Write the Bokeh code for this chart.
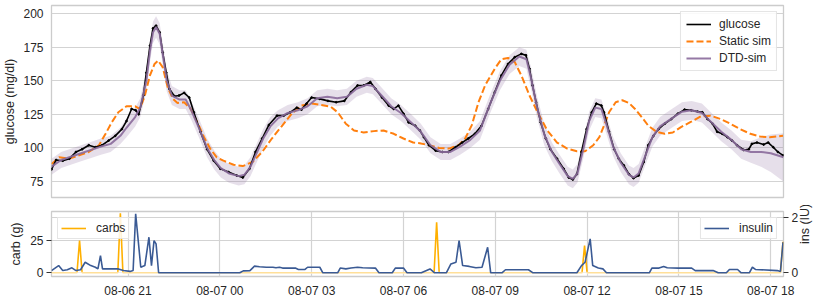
import math
from bokeh.plotting import figure
from bokeh.models import Range1d, LinearAxis, FixedTicker, Legend, LegendItem, Grid
from bokeh.layouts import column
from bokeh.embed import file_html
from bokeh.resources import INLINE

# ---------------- data (minutes since 08-06 18:30) ----------------
glucose_t = [0, 9, 22, 35, 48, 60, 73, 86, 99, 112, 125, 138, 147, 157, 165, 171, 180, 186, 193, 199,
             205, 212, 218, 225, 231, 241, 250, 260, 270, 279, 292, 305, 318, 331, 347, 363, 375, 388,
             400, 413, 426, 442, 455, 468, 481, 490, 500, 510, 526, 542, 558, 574, 587, 600, 612, 625,
             635, 648, 661, 671, 680, 690, 700, 713, 722, 730, 740, 753, 766, 778, 792, 805, 817, 830,
             843, 856, 869, 882, 895, 908, 921, 930, 937, 943, 950, 959, 969, 978, 991, 1004, 1014,
             1022, 1030, 1039, 1049, 1059, 1068, 1078, 1083, 1093, 1103, 1112, 1122, 1132, 1141, 1151,
             1161, 1170, 1180, 1190, 1202, 1215, 1228, 1241, 1254, 1267, 1276, 1286, 1296, 1305, 1315,
             1325, 1334, 1344, 1357, 1367, 1373, 1383, 1396, 1405, 1415, 1424, 1434]
glucose_v = [84, 91, 90.5, 92, 97, 99, 102, 100.5, 102, 105.5, 109, 114, 120, 129, 128, 125, 139, 156,
             176, 189, 191, 186, 171, 156, 144, 138.5, 139, 141, 137.5, 126.5, 112, 99, 90.5, 84.5, 82,
             79.5, 78, 84.5, 97, 107, 117, 124, 124, 126.5, 130, 128.5, 133, 137.5, 136.5, 135, 134,
             135, 141.5, 146.5, 146.5, 149, 144, 137.5, 131.5, 129, 131.5, 125.5, 119, 116.5, 113, 108,
             102, 98, 97, 97, 100.5, 104, 107, 110.5, 116.5, 129, 141.5, 154, 162.5, 167.5, 170, 169,
             159, 146.5, 134, 119, 107, 99, 92, 84.5, 78, 76.5, 80.5, 97, 114, 126.5, 133, 131.5, 126.5,
             112, 99, 92, 87, 80.5, 77.5, 79.5, 89.5, 102, 109, 114, 118, 121.5, 125.5, 128.5, 128, 127,
             126.5, 121.5, 118, 112, 110.5, 108, 105.5, 102, 98.5, 99, 103, 104, 102.5, 104, 100.5, 97,
             94.5]

static_t = [0, 15, 35, 54, 73, 93, 106, 118, 131, 147, 164, 173, 183, 193, 202, 209, 218, 228, 238, 247,
            260, 273, 286, 299, 311, 324, 337, 357, 375, 394, 413, 432, 452, 471, 490, 510, 529, 548,
            561, 577, 593, 612, 632, 651, 671, 690, 709, 722, 740, 760, 779, 798, 811, 824, 837, 850,
            869, 882, 895, 908, 921, 937, 953, 972, 991, 1011, 1030, 1046, 1062, 1074, 1083, 1093, 1106,
            1119, 1132, 1144, 1157, 1170, 1186, 1202, 1218, 1234, 1254, 1273, 1292, 1312, 1331, 1350,
            1370, 1389, 1408, 1434]
static_v = [88, 93, 92, 94.5, 97, 102, 110.5, 119, 126.5, 131, 131, 129, 139, 154, 162.5, 165, 160, 145,
            136.5, 133.5, 134, 129, 119, 108, 99.5, 93, 90.5, 87.5, 86.5, 89.5, 97, 107, 116.5, 125.5,
            131.5, 133, 132, 130.5, 126.5, 118, 113, 111.5, 112.5, 113, 110.5, 107, 104, 103.5, 102, 100,
            99.5, 102, 107, 117, 134, 146.5, 159, 166, 167, 164, 154, 139, 126.5, 113, 104, 99.5, 97.5,
            97.5, 102, 108, 116.5, 126.5, 134, 135.5, 133.5, 129, 123, 116.5, 112, 110.5, 111.5, 115.5,
            119.5, 123.5, 124, 121.5, 118, 114, 110.5, 108.5, 108, 109]

dtd_t = [0, 19, 58, 97, 116, 135, 147, 164, 174, 186, 193, 199, 205, 212, 218, 226, 236, 251, 263, 274,
         290, 305, 319, 332, 348, 367, 378, 390, 402, 415, 429, 444, 463, 483, 502, 521, 541, 560, 579,
         598, 618, 630, 647, 666, 685, 705, 724, 743, 763, 782, 801, 821, 840, 859, 879, 898, 917, 931,
         940, 952, 966, 981, 996, 1012, 1022, 1031, 1043, 1054, 1066, 1078, 1089, 1101, 1116, 1132, 1141,
         1151, 1162, 1178, 1193, 1216, 1236, 1255, 1275, 1294, 1313, 1333, 1352, 1371, 1391, 1410, 1435]
dtd_v = [86, 91, 96, 101, 103, 109, 115, 123, 130, 150, 172, 186, 190, 185, 170, 150, 139, 136, 136, 128,
         114, 100, 91, 85, 81, 79, 80, 86, 96, 107, 116, 122, 126, 128, 131, 137, 138, 137, 138, 144, 147,
         146, 139, 131, 126, 119, 112, 102, 97, 97, 101, 106, 113, 132, 150, 162, 168, 166, 152, 130, 110,
         97, 88, 79, 77, 81, 100, 120, 130, 129, 116, 101, 89, 80, 78, 81, 92, 108, 116, 122, 127, 128, 126,
         119, 112, 106, 99, 97, 97, 96, 93]
dtd_spread = [6, 6, 6, 6, 6, 6, 7, 7, 7, 8, 8, 8, 8, 8, 8, 8, 7, 7, 7, 7,
              7, 7, 7, 7, 7, 7, 7, 7, 7, 7, 7, 6, 6, 6, 6, 6, 6, 6, 6, 6, 6,
              6, 6, 6, 6, 6, 6, 6, 6, 6, 6, 6, 7, 7, 7, 7, 7, 7, 8, 8, 8,
              7, 7, 7, 7, 7, 7, 7, 7, 7, 7, 7, 7, 7, 7, 7, 7, 7, 7, 7, 7, 7, 7,
              7, 7, 7, 7, 8, 11, 14, 18]

carb_t = [0, 50, 55, 60, 130, 135, 140, 750, 755, 760, 1040, 1045, 1050, 1429, 1434]
carb_g = [0, 0, 25, 0, 0, 46, 0, 0, 39, 0, 0, 21, 0, 0, 24]

ins_t = [0, 14, 22, 31, 40, 48, 57, 66, 77, 86, 91, 96, 100, 112, 131, 141, 154, 160, 165, 175, 183, 191,
         196, 201, 205, 210, 369, 376, 389, 398, 408, 421, 434, 440, 447, 453, 478, 484, 497, 502, 526,
         532, 561, 566, 577, 587, 600, 610, 635, 642, 668, 674, 690, 697, 725, 742, 751, 774, 783, 793,
         799, 806, 819, 832, 844, 855, 861, 883, 890, 935, 944, 1030, 1039, 1046, 1056, 1061, 1072, 1081,
         1088, 1172, 1177, 1191, 1200, 1207, 1229, 1255, 1262, 1297, 1307, 1323, 1329, 1345, 1352, 1368,
         1374, 1380, 1423, 1429, 1434]
ins_u = [0.08, 0.26, 0.08, 0.11, 0.18, 0.08, 0.11, 0.38, 0.26, 0.2, 0.14, 0.62, 0.14, 0.14, 0.14, 0.08,
         0.05, 0.08, 2.12, 0.2, 0.26, 1.28, 0.26, 1.16, 1.04, 0, 0, 0.07, 0.08, 0.24, 0.22, 0.2, 0.2, 0.18,
         0.2, 0.17, 0.17, 0.12, 0.12, 0.2, 0.2, 0, 0, 0.17, 0.14, 0.17, 0.2, 0.18, 0.17, 0, 0, 0.17, 0.17,
         0, 0, 0.14, 0, 0, 0.32, 0.38, 1.16, 0.26, 0.23, 0.18, 0.2, 0.92, 0, 0, 0.11, 0.11, 0, 0, 0.26,
         0.38, 1.22, 0.26, 0.17, 0.14, 0, 0, 0.17, 0.17, 0.23, 0.18, 0.17, 0.17, 0.08, 0.08, 0, 0, 0.12,
         0.12, 0, 0, 0.2, 0.12, 0.08, 0.05, 1.1]

start_hour = 18.5
tick_hours = [21, 24, 27, 30, 33, 36, 39, 42]
tick_labels = ["08-06 21", "08-07 00", "08-07 03", "08-07 06", "08-07 09", "08-07 12", "08-07 15", "08-07 18"]
glucose_ticks = [75, 100, 125, 150, 175, 200]
carb_ticks = [0, 25]
ins_ticks = [0, 2]

# ---------------- style ----------------
FONT = "Liberation Sans"
TXT = "#262626"
GRID = "#d3d3d3"
EDGE = "#cccccc"
FS = "12px"
LFS = "12.5px"

tick_min = [(h - start_hour) * 60 for h in tick_hours]
xr = Range1d(0, 1435)


def style_common(p):
    p.outline_line_color = EDGE
    p.outline_line_width = 1.3
    p.background_fill_color = "white"
    p.border_fill_color = "white"


# ---------------- top panel ----------------
p1 = figure(width=822, height=205, x_range=xr, y_range=Range1d(63.1, 206.0),
            output_backend="svg", toolbar_location=None,
            min_border_left=42, min_border_right=37, min_border_top=5, min_border_bottom=8)
style_common(p1)
p1.xaxis.visible = False
p1.xgrid.visible = False
p1.yaxis.ticker = FixedTicker(ticks=glucose_ticks)
p1.ygrid.ticker = FixedTicker(ticks=glucose_ticks)
p1.ygrid.grid_line_color = GRID
p1.ygrid.grid_line_width = 1.2
ya = p1.yaxis[0]
ya.axis_label = "glucose (mg/dl)"
ya.axis_label_text_font = FONT
ya.axis_label_text_font_size = LFS
ya.axis_label_text_font_style = "normal"
ya.axis_label_text_color = TXT
ya.axis_label_standoff = 3
ya.major_label_text_font = FONT
ya.major_label_text_font_size = FS
ya.major_label_text_color = TXT
ya.major_label_standoff = 8
ya.major_tick_out = 0
ya.major_tick_in = 0
ya.minor_tick_out = 0
ya.minor_tick_in = 0
ya.axis_line_color = None

band_lo = [v - s for v, s in zip(dtd_v, dtd_spread)]
band_hi = [v + s for v, s in zip(dtd_v, dtd_spread)]
p1.varea(x=dtd_t, y1=band_lo, y2=band_hi, fill_color="#8e6f9e", fill_alpha=0.22)

r_static = p1.line(static_t, static_v, line_color="#ff7f0e", line_width=2, line_dash="7 3")
r_gl = p1.line(glucose_t, glucose_v, line_color="black", line_width=1.6)
p1.scatter(glucose_t, glucose_v, size=1.8, color="black")
r_dtd = p1.line(dtd_t, dtd_v, line_color="#8a6a9b", line_width=2, line_alpha=0.9)

leg1 = Legend(items=[LegendItem(label="glucose", renderers=[r_gl]),
                     LegendItem(label="Static sim", renderers=[r_static]),
                     LegendItem(label="DTD-sim", renderers=[r_dtd])],
              location="top_right", margin=6, padding=5, spacing=3,
              label_height=14, glyph_height=14, glyph_width=25, label_standoff=8,
              label_text_font=FONT, label_text_font_size=FS, label_text_color=TXT,
              border_line_color=EDGE, border_line_width=1, background_fill_alpha=0.85)
p1.add_layout(leg1)

# ---------------- bottom panel ----------------
p2 = figure(width=822, height=96, x_range=xr, y_range=Range1d(-2.86, 47.4),
            output_backend="svg", toolbar_location=None,
            min_border_left=42, min_border_right=37, min_border_top=6, min_border_bottom=25)
style_common(p2)
p2.extra_y_ranges = {"ins": Range1d(-0.133, 2.205)}

xa = p2.xaxis[0]
xa.ticker = FixedTicker(ticks=tick_min)
xa.major_label_overrides = {m: l for m, l in zip(tick_min, tick_labels)}
xa.major_label_text_font = FONT
xa.major_label_text_font_size = FS
xa.major_label_text_color = TXT
xa.major_label_standoff = 7
xa.major_tick_out = 0
xa.major_tick_in = 0
xa.minor_tick_out = 0
xa.minor_tick_in = 0
xa.axis_line_color = None
p2.xgrid.ticker = FixedTicker(ticks=tick_min)
p2.xgrid.grid_line_color = GRID
p2.xgrid.grid_line_width = 1.2

la = p2.yaxis[0]
la.ticker = FixedTicker(ticks=carb_ticks)
la.axis_label = "carb (g)"
p2.ygrid.ticker = FixedTicker(ticks=carb_ticks)
p2.ygrid.grid_line_color = GRID
p2.ygrid.grid_line_width = 1.2

ra = LinearAxis(y_range_name="ins", ticker=FixedTicker(ticks=ins_ticks), axis_label="ins (IU)")
ra.axis_label_orientation = math.pi / 2
p2.add_layout(ra, "right")
p2.add_layout(Grid(dimension=1, ticker=FixedTicker(ticks=ins_ticks), y_range_name="ins",
                   grid_line_color=GRID, grid_line_width=1.2))

for ax in (la, ra):
    ax.axis_label_text_font = FONT
    ax.axis_label_text_font_size = LFS
    ax.axis_label_text_font_style = "normal"
    ax.axis_label_text_color = TXT
    ax.axis_label_standoff = 4
    ax.major_label_text_font = FONT
    ax.major_label_text_font_size = FS
    ax.major_label_text_color = TXT
    ax.major_label_standoff = 3
    ax.major_tick_out = 5
    ax.major_tick_in = 0
    ax.major_tick_line_color = "#333333"
    ax.major_tick_line_width = 1.2
    ax.minor_tick_out = 0
    ax.minor_tick_in = 0
    ax.axis_line_color = None

r_carb = p2.line(carb_t, carb_g, line_color="#ffb000", line_width=1.6)
p2.line([carb_t[0], carb_t[-1]], [0, 0], line_color="white", line_alpha=0.6, line_width=2.2)
r_ins = p2.line(ins_t, ins_u, y_range_name="ins", line_color="#3a5a94", line_width=1.6)

leg_c = Legend(items=[LegendItem(label="carbs", renderers=[r_carb])],
               location="top_left", margin=6, padding=3, label_height=14, glyph_height=14,
               glyph_width=25, label_standoff=10, label_text_font=FONT, label_text_font_size=FS,
               label_text_color=TXT, border_line_color=EDGE, background_fill_alpha=0.85)
leg_i = Legend(items=[LegendItem(label="insulin", renderers=[r_ins])],
               location="top_right", margin=6, padding=3, label_height=14, glyph_height=14,
               glyph_width=25, label_standoff=10, label_text_font=FONT, label_text_font_size=FS,
               label_text_color=TXT, border_line_color=EDGE, background_fill_alpha=0.85)
p2.add_layout(leg_c)
p2.add_layout(leg_i)

layout = column(p1, p2, spacing=0)
open("out.html", "w").write(file_html(layout, INLINE))
